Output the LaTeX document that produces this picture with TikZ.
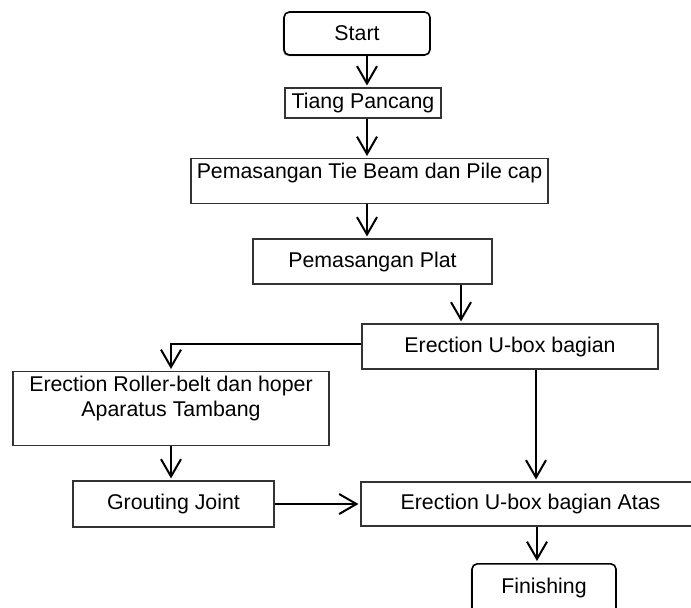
\documentclass[tikz,border=0pt]{standalone}
\usepackage{fontspec}
\setmainfont{Liberation Sans}
\usetikzlibrary{arrows.meta, calc, shadows}

\begin{document}
\begin{tikzpicture}[x=0.75pt, y=-0.75pt,
  every node/.style={font=\fontsize{16}{19}\selectfont},
  box/.style={draw=black!80, line width=0.8pt, fill=white, inner sep=2pt},
  term/.style={box, draw=black, line width=1.2pt, rounded corners=4pt,
    drop shadow={shadow xshift=-0.8pt, shadow yshift=-0.8pt, fill=black!45, opacity=1}},
  arr/.style={line width=1.5pt, -{Straight Barb[length=13pt, width=15pt]}, shorten >=1.5pt}]
  \clip (0,0) rectangle (691,607);

  % Top column
  \node[term, minimum width=109.5pt, minimum height=32.25pt] (start) at (357,33.5) {Start};
  \node[box, minimum width=117pt, minimum height=22.5pt] (tiang) at (363,103) {Tiang Pancang};
  \node[box, anchor=north, minimum width=267.75pt, inner ysep=0pt,
    text height=15pt, text depth=18.75pt] (tie) at (369.5,158) {Pemasangan Tie Beam dan Pile cap};
  \node[box, minimum width=179.25pt, minimum height=33.75pt] (plat) at (372.5,261.5) {Pemasangan Plat};

  % Erection
  \node[box, minimum width=222pt, minimum height=33.75pt] (ubox) at (510,346.5) {Erection U-box bagian};
  \node[box, anchor=north, minimum width=237pt, inner ysep=0pt, align=center,
    text height=33.75pt, text depth=21.75pt] (roller) at (171,371)
    {Erection Roller-belt dan hoper\\Aparatus Tambang};
  \node[box, minimum width=150.75pt, minimum height=34.5pt] (grout) at (173.5,504) {Grouting Joint};
  \node[box, minimum width=254.25pt, minimum height=33pt] (atas) at (530.5,504) {Erection U-box bagian Atas};
  \node[term, anchor=north, minimum width=108pt, inner ysep=0pt,
    text height=22.5pt, text depth=15pt] (finish) at (544,563) {Finishing};

  % Arrows
  \draw[arr] (start.south -| 367,0) -- (tiang.north -| 367,0);
  \draw[arr] (tiang.south -| 367,0) -- (tie.north -| 367,0);
  \draw[arr] (tie.south -| 367,0) -- (plat.north -| 367,0);
  \draw[arr] (plat.south -| 461,0) -- (ubox.north -| 461,0);
  \draw[arr] (ubox.west |- 0,344) -| (roller.north);
  \draw[arr] (roller.south) -- (roller.south |- grout.north);
  \draw[arr] (grout.east) -- (atas.west);
  \draw[arr] (ubox.south -| 536,0) -- (atas.north -| 536,0);
  \draw[arr] (atas.south -| 537,0) -- (finish.north -| 537,0);
\end{tikzpicture}
\end{document}
